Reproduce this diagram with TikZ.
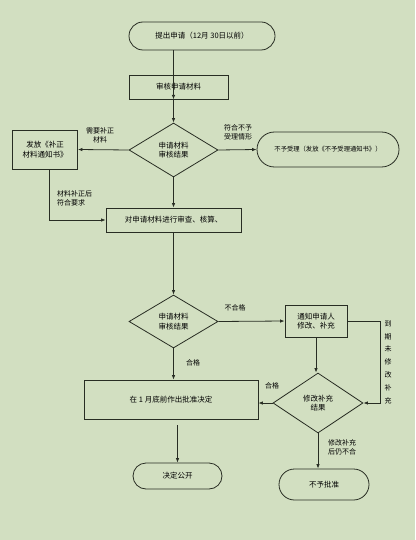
\documentclass[tikz,border=0pt]{standalone}
\usepackage{fontspec}
\setmainfont{Noto Sans CJK SC}
\usetikzlibrary{arrows.meta,shapes.geometric,shapes.misc,calc}
\definecolor{bgc}{RGB}{210,223,193}
\definecolor{lnc}{RGB}{40,45,35}
\begin{document}
\begin{tikzpicture}[x=1pt,y=-1pt,
  every node/.style={font=\fontsize{7.5}{9.5}\selectfont, text=black, inner sep=0pt},
  proc/.style={draw=lnc, line width=0.8pt, rectangle, align=center},
  term/.style={draw=lnc, line width=0.8pt, rounded rectangle, align=center},
  dec/.style={draw=lnc, line width=0.8pt, diamond, align=center},
  arr/.style={draw=lnc, line width=0.8pt, -{Latex[length=4.5pt,width=3.5pt]}},
  lbl/.style={align=center, font=\fontsize{7}{9}\selectfont}
]
\fill[bgc] (0,0) rectangle (415,540);
\useasboundingbox (0,0) rectangle (415,540);

\node[term, minimum width=146pt, minimum height=28pt] (start) at (202,36) {提出申请（12月 30日以前）};
\node[proc, minimum width=99pt, minimum height=24pt] (check) at (178.5,87) {审核申请材料};
\node[dec, minimum width=89pt, minimum height=54pt] (d1) at (173.5,150) {申请材料\\审核结果};
\node[proc, minimum width=65pt, minimum height=39pt] (notice) at (45,149.5) {发放《补正\\材料通知书》};
\node[term, minimum width=142pt, minimum height=35pt, font=\fontsize{6.3}{8}\selectfont] (reject) at (328,149.5) {不予受理（发放《不予受理通知书》）};
\node[proc, minimum width=135pt, minimum height=24pt] (review) at (173.5,220) {对申请材料进行审查、核算、};
\node[dec, minimum width=89pt, minimum height=53pt] (d2) at (173.5,321.5) {申请材料\\审核结果};
\node[proc, minimum width=62pt, minimum height=32pt] (notify) at (316,321) {通知申请人\\修改、补充};
\node[dec, minimum width=90pt, minimum height=60pt] (d3) at (318,403) {修改补充\\结果};
\node[proc, minimum width=174pt, minimum height=39pt] (approve) at (171,399.5) {在 1 月底前作出批准决定};
\node[term, minimum width=89pt, minimum height=26pt] (publish) at (177.5,476) {决定公开};
\node[term, minimum width=90pt, minimum height=31pt] (deny) at (324,484.5) {不予批准};

% labels
\node[lbl] (l1) at (100,135) {需要补正\\材料};
\node[lbl] (l2) at (238,132) {符合不予\\受理情形};
\node[lbl, align=left, anchor=west] (l3) at (57,198) {材料补正后\\符合要求};
\node[lbl] (l4) at (235,308) {不合格};
\node[lbl, font=\fontsize{7}{12.8}\selectfont] (l5) at (388,362) {到\\期\\未\\修\\改\\补\\充};
\node[lbl] (l6) at (193,363) {合格};
\node[lbl] (l7) at (272,386) {合格};
\node[lbl, anchor=west] (l8) at (328,447) {修改补充\\后仍不合};

% connectors
\draw[arr] (start.south -| d1) -- (check.south -| d1 |- check.north);
\draw[arr] (check.south -| d1) -- (d1.north);
\draw[arr] (d1.west) -- (notice.east);
\draw[arr] (d1.east) -- (reject.west);
\draw[arr] ([xshift=4pt]notice.south) |- (review.west);
\draw[arr] (d1.south) -- (review.north);
\draw[arr] (review.south) -- (d2.north);
\draw[arr] (d2.east) -- (notify.west);
\coordinate (turn) at ($(notify.east)+(33,0)$);
\draw[arr] (notify.east) -- (turn) |- (d3.east);
\draw[arr] (notify.south) -- (notify.south |- d3.north);
\draw[arr] (d2.south) -- (d2.south |- approve.north);
\draw[arr] (d3.west) -- (d3.west -| approve.east);
\draw[arr] ([yshift=-6pt]approve.south -| publish) -- (publish.north);
\draw[arr] (d3.south) -- (d3.south |- deny.north);
\end{tikzpicture}
\end{document}
